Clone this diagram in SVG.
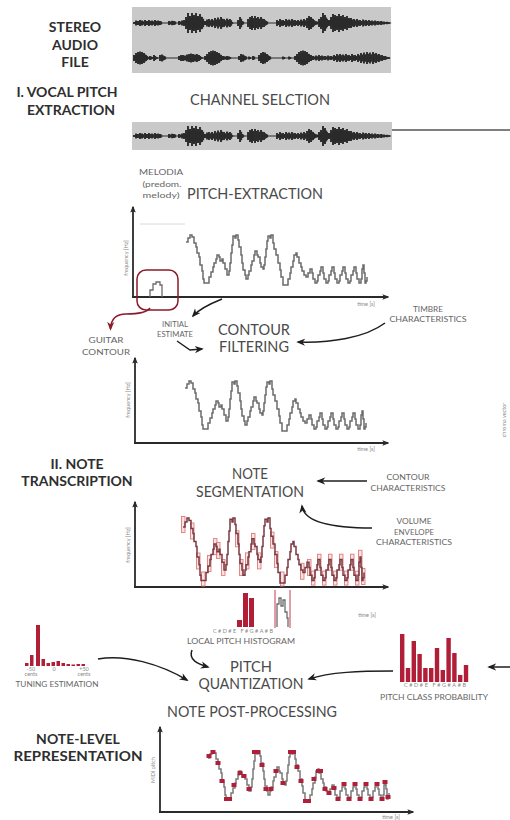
<svg xmlns="http://www.w3.org/2000/svg" xmlns:xlink="http://www.w3.org/1999/xlink" width="510" height="820" viewBox="0 0 510 820">
<style>
.hd{font-family:Lato,"Open Sans","DejaVu Sans",sans-serif;font-weight:700;font-size:14px;fill:#2e2e2e;text-anchor:middle}
.md{font-family:Lato,"Open Sans","DejaVu Sans",sans-serif;font-size:15px;fill:#4a4a4a;text-anchor:middle}
.sm{font-family:Lato,"Open Sans","DejaVu Sans",sans-serif;font-size:7px;fill:#666;text-anchor:middle}
.tn{font-family:Lato,"Open Sans","DejaVu Sans",sans-serif;font-size:5.5px;fill:#888;text-anchor:middle}
.ax{fill:none;stroke:#2a2a2a;stroke-width:1.8;marker-end:url(#axh)}
.cn{fill:none;stroke:#1e1e1e;stroke-width:1.5;marker-end:url(#ah)}
.wbox{fill:#c9c9c9}
.wave{fill:none;stroke:#2a2a2a;stroke-width:1.9}
.wl{fill:none;stroke:#2a2a2a;stroke-width:1.2}
.bar{fill:#b01e38}
.seg{fill:#f4c8c8;fill-opacity:.5;stroke:#e07b7b;stroke-width:.9}
.note{fill:#b01e38}
</style>
<defs>
<marker id="ah" viewBox="0 0 10 10" refX="8" refY="5" markerWidth="9" markerHeight="9" markerUnits="userSpaceOnUse" orient="auto"><path d="M0,1L10,5L0,9L3,5z" fill="#1e1e1e"/></marker>
<marker id="ahr" viewBox="0 0 10 10" refX="8" refY="5" markerWidth="9" markerHeight="9" markerUnits="userSpaceOnUse" orient="auto"><path d="M0,1L10,5L0,9L3,5z" fill="#8b1a2a"/></marker>
<marker id="axh" viewBox="0 0 10 10" refX="8" refY="5" markerWidth="7" markerHeight="7" markerUnits="userSpaceOnUse" orient="auto"><path d="M0,1L10,5L0,9L2,5z" fill="#2a2a2a"/></marker>
<path id="wA" d="M134-1v2M136-2.5v5M138-2v4M140-3v6M142-2.5v5M145-3v6M147-2v4M149-3v6M152-2.5v5M155-3v6M158-2.5v5M160-2v4M169-2v4M172-2.2v4.4M174-2v4M179-2v4M182-2.5v5M184-3v6M186-6v12M188-10v20M190-7v14M192-10v20M194-8v16M196-10v20M198-7v14M200-9v18M202-6v12M203-3v6M205-2v4M207-3.5v7M209-4v8M212-4v8M215-5v10M218-5.5v11M221-6v12M224-4v8M227-4.5v9M230-4v8M231-1.5v3M238-3v6M240-6v12M242-2v4M248-4v8M250-6v12M252-7v14M255-7v14M258-6v12M261-6v12M264-4v8M266-2v4M277-3v6M280-4v8M283-3v6M286-4v8M289-3.5v7M292-4v8M295-3v6M298-3v6M301-3.5v7M304-4v8M307-5v10M309-7v14M311-6v12M313-4v8M315-2v4M317-1.5v3M319-4v8M321-6v12M323-10v20M325-8v16M327-4v8M329-3v6M331-6v12M333-9v18M335-8v16M337-7v14M339-9v18M341-7v14M343-8v16M345-6v12M347-7v14M349-5v10M351-5v10M354-4v8M357-4v8M360-3v6M363-3.5v7M366-3v6M369-3v6M372-2.5v5M375-2.5v5M378-2v4M381-2v4M384-1.5v3M387-1.2v2.4M389-0.8v1.6"/>
<path id="wB" d="M134-3v6M136-5v10M138-6v12M140-6.5v13M142-6v12M144-5v10M146-3v6M148-1v2M150-2v4M152-1v2M154-3v6M156-1v2M160-3v6M162-3.5v7M164-2v4M179-2v4M181-3v6M183-3v6M185-2.5v5M187-3.5v7M189-4v8M191-4.5v9M193-4v8M195-3.5v7M197-4v8M199-3v6M201-1v2M205-2v4M207-4v8M209-6v12M211-7v14M213-7.5v15M215-7v14M217-6v12M219-5v10M221-3v6M223-2v4M225-1.5v3M227-2v4M229-1.5v3M239-2v4M241-4v8M243-3.5v7M245-2v4M249-1.5v3M253-2v4M259-3v6M261-5v10M263-6v12M265-5.5v11M267-4v8M269-2v4M283-1.5v3M289-1.5v3M295-2v4M297-4v8M299-6v12M301-7v14M303-7.5v15M305-7v14M307-6v12M309-4v8M311-3v6M313-2v4M316-2.5v5M319-3v6M322-2.5v5M325-2v4M328-2.5v5M331-2v4M334-3v6M337-4v8M340-4v8M343-3.5v7M346-4v8M349-3v6M352-4v8M355-3v6M358-4v8M361-5v10M364-5.5v11M367-6v12M370-5.5v11M373-6v12M376-5v10M379-4v8M382-3v6M385-2v4M388-1v2"/>
<path id="mel" fill="none" stroke-width="1.5" vector-effect="non-scaling-stroke" d="M0,7H2V3H4V0H6V2H8V8H10V12H11V18H13V22H14V30H16V36H17V44H18V48H22V48H23V42H25V37H27V32H28V28H30V24H31V20H33V22H34V26H36V24H37V28H39V34H41V40H43V36H44V28H45V18H46V10H47V1H49V3H50V0H52V5H53V12H55V20H56V28H57V35H59V40H60V44H62V40H63V36H65V30H66V26H68V20H69V16H71V20H72V22H74V28H75V32H77V34H78V30H79V22H80V14H81V6H82V1H84V3H85V0H87V8H88V14H90V20H92V28H94V35H95V42H97V50H101V50H102V44H104V38H105V32H107V26H108V20H110V18H111V22H113V28H115V32H116V36H118V40H120V42H122V38H124V34H126V38H127V44H129V48H131V46H132V40H134V36H135V32H137V38H138V44H140V48H142V46H143V40H145V36H146V32H148V38H149V44H151V48H153V46H154V40H156V36H157V32H159V38H160V44H162V48H164V46H165V40H167V36H168V32H170V38H171V44H173V48H175V44H176V34H177V30H178V38H179V48H180V46H181V42"/>
</defs>
<rect width="510" height="820" fill="#ffffff"/>

<g id="stereo-audio">
<text class="hd" x="75" y="32">STEREO</text>
<text class="hd" x="75" y="50">AUDIO</text>
<text class="hd" x="75" y="67">FILE</text>
<rect class="wbox" x="132" y="7" width="259" height="66"/>
<g transform="translate(0,23)"><use xlink:href="#wA" class="wave"/><use xlink:href="#wA" class="wave" transform="translate(1.2,0) scale(1,0.7)"/><path class="wl" d="M134,0H390"/></g>
<g transform="translate(0,58)"><use xlink:href="#wB" class="wave"/><use xlink:href="#wB" class="wave" transform="translate(1.2,0) scale(1,0.7)"/><path class="wl" d="M134,0H390"/></g>
</g>

<g id="section-1-title">
<text class="hd" x="67" y="97">I. VOCAL PITCH</text>
<text class="hd" x="71" y="115">EXTRACTION</text>
</g>

<g id="channel-selection">
<text class="md" x="260" y="105" font-size="13.5" textLength="140" lengthAdjust="spacingAndGlyphs">CHANNEL SELCTION</text>
<rect class="wbox" x="132" y="122" width="260" height="28"/>
<g transform="translate(0,136)"><use xlink:href="#wA" class="wave"/><use xlink:href="#wA" class="wave" transform="translate(1.2,0) scale(1,0.7)"/><path class="wl" d="M134,0H390"/></g>
</g>

<g id="pitch-extraction">
<text class="sm" x="161" y="175" font-size="8" textLength="44" lengthAdjust="spacingAndGlyphs">MELODIA</text>
<text class="sm" x="162" y="187" font-size="8.5" fill="#555" textLength="39" lengthAdjust="spacingAndGlyphs">(predom.</text>
<text class="sm" x="161" y="198" font-size="8.5" fill="#555" textLength="37" lengthAdjust="spacingAndGlyphs">melody)</text>
<text class="md" x="255" y="199" font-size="15.5" textLength="136" lengthAdjust="spacingAndGlyphs">PITCH-EXTRACTION</text>
<path d="M140,224H185" stroke="#d0d0d0" stroke-width="0.8"/>
<path class="ax" d="M133,298V207"/>
<path class="ax" d="M132,297H388"/>
<text class="tn" transform="translate(128,258) rotate(-90)">frequency [Hz]</text>
<text class="tn" x="366" y="306">time [s]</text>
<use xlink:href="#mel" x="186" y="235" stroke="#6b6b6b"/>
<rect x="137" y="270" width="41" height="40" rx="9" fill="none" stroke="#8b1a2a" stroke-width="1.5"/>
<path d="M150,297V290H153V284H156V282H160V285H162V297" fill="none" stroke="#6b6b6b" stroke-width="1.3"/>
</g>

<g id="guitar-contour">
<text class="sm" x="106" y="343" font-size="8" textLength="35" lengthAdjust="spacingAndGlyphs">GUITAR</text>
<text class="sm" x="106" y="355" font-size="8" textLength="48" lengthAdjust="spacingAndGlyphs">CONTOUR</text>
</g>

<g id="initial-estimate">
<text class="sm" x="175" y="327" font-size="6.5" textLength="26" lengthAdjust="spacingAndGlyphs">INITIAL</text>
<text class="sm" x="175" y="337" font-size="6.5" textLength="36" lengthAdjust="spacingAndGlyphs">ESTIMATE</text>
</g>

<g id="contour-filtering">
<text class="md" x="254" y="335" font-size="17" textLength="72" lengthAdjust="spacingAndGlyphs">CONTOUR</text>
<text class="md" x="254" y="352" font-size="17" textLength="70" lengthAdjust="spacingAndGlyphs">FILTERING</text>
</g>

<g id="timbre-characteristics">
<text class="sm" x="428" y="312" textLength="30" lengthAdjust="spacingAndGlyphs">TIMBRE</text>
<text class="sm" x="428" y="322" textLength="77" lengthAdjust="spacingAndGlyphs">CHARACTERISTICS</text>
</g>

<g id="filtered-contour">
<path class="ax" d="M135,444V358"/>
<path class="ax" d="M134,443H388"/>
<text class="tn" transform="translate(130,400) rotate(-90)">frequency [Hz]</text>
<text class="tn" x="366" y="451">time [s]</text>
<use xlink:href="#mel" x="185" y="381" stroke="#6b6b6b"/>
</g>

<g id="chroma-vector">
<text class="tn" font-size="8" fill="#aaa" transform="translate(506,420) rotate(-90)">chroma vector</text>
</g>

<g id="section-2-title">
<text class="hd" x="77" y="469">II. NOTE</text>
<text class="hd" x="77" y="486">TRANSCRIPTION</text>
</g>

<g id="note-segmentation">
<text class="md" x="250" y="479" textLength="36" lengthAdjust="spacingAndGlyphs">NOTE</text>
<text class="md" x="250" y="497" textLength="108" lengthAdjust="spacingAndGlyphs">SEGMENTATION</text>
</g>

<g id="contour-characteristics">
<text class="sm" x="408" y="480" textLength="43" lengthAdjust="spacingAndGlyphs">CONTOUR</text>
<text class="sm" x="408" y="491" textLength="75" lengthAdjust="spacingAndGlyphs">CHARACTERISTICS</text>
</g>

<g id="volume-envelope">
<text class="sm" x="414" y="524" textLength="35" lengthAdjust="spacingAndGlyphs">VOLUME</text>
<text class="sm" x="414" y="535" textLength="40" lengthAdjust="spacingAndGlyphs">ENVELOPE</text>
<text class="sm" x="414" y="545" textLength="76" lengthAdjust="spacingAndGlyphs">CHARACTERISTICS</text>
</g>

<g id="segmented-contour">
<path class="ax" d="M135,588V502"/>
<path class="ax" d="M134,587H388"/>
<text class="tn" transform="translate(130,545) rotate(-90)">frequency [Hz]</text>
<text class="tn" x="367" y="617">time [s]</text>
<g>
<rect class="seg" x="181.5" y="516.5" width="3.5" height="16"/>
<rect class="seg" x="190.5" y="523" width="3.5" height="16"/>
<rect class="seg" x="196.5" y="553" width="3.5" height="16"/>
<rect class="seg" x="201.5" y="572" width="3.5" height="14"/>
<rect class="seg" x="207.5" y="555.5" width="3.5" height="16"/>
<rect class="seg" x="213.5" y="538.6" width="3.5" height="16"/>
<rect class="seg" x="216.5" y="542.5" width="3.5" height="16"/>
<rect class="seg" x="221.5" y="559.4" width="3.5" height="16"/>
<rect class="seg" x="235.5" y="530.8" width="3.5" height="16"/>
<rect class="seg" x="239.5" y="559.4" width="3.5" height="16"/>
<rect class="seg" x="245.5" y="552.9" width="3.5" height="16"/>
<rect class="seg" x="251.5" y="533.4" width="3.5" height="16"/>
<rect class="seg" x="257.5" y="552.9" width="3.5" height="16"/>
<rect class="seg" x="270.5" y="532.1" width="3.5" height="16"/>
<rect class="seg" x="274.5" y="551.6" width="3.5" height="16"/>
<rect class="seg" x="280.5" y="572" width="3.5" height="14"/>
<rect class="seg" x="300.5" y="563.3" width="3.5" height="16"/>
<rect class="seg" x="307.5" y="559.4" width="3.5" height="16"/>
<rect class="seg" x="311.5" y="571.1" width="3.5" height="14"/>
<rect class="seg" x="317.5" y="554.2" width="3.5" height="16"/>
<rect class="seg" x="322.5" y="571.1" width="3.5" height="14"/>
<rect class="seg" x="328.5" y="554.2" width="3.5" height="16"/>
<rect class="seg" x="333.5" y="571.1" width="3.5" height="14"/>
<rect class="seg" x="339.5" y="554.2" width="3.5" height="16"/>
<rect class="seg" x="344.5" y="571.1" width="3.5" height="14"/>
<rect class="seg" x="350.5" y="554.2" width="3.5" height="16"/>
<rect class="seg" x="355.5" y="571.1" width="3.5" height="14"/>
<rect class="seg" x="358.5" y="550.3" width="3.5" height="16"/>
<rect class="seg" x="361.5" y="568.5" width="3.5" height="16"/>
</g>
<use xlink:href="#mel" transform="translate(183,518) scale(1,1.3)" stroke="#7a3a42"/>
</g>

<g id="local-pitch-histogram">
<rect class="bar" x="237" y="620" width="5" height="7"/>
<rect class="bar" x="243" y="593" width="5" height="34"/>
<rect class="bar" x="249" y="598" width="5" height="29"/>
<path d="M275,590V628M290,590V628" stroke="#c8394c" stroke-width="1"/>
<path d="M277,627V604H279V598H281V606H283V600H285V612H287V618H288V627" fill="none" stroke="#6b6b6b" stroke-width="1.3"/>
<text class="tn" x="243" y="633" font-size="4.5" textLength="60" lengthAdjust="spacing">C#D#E F#G#A#B</text>
<text class="sm" x="241" y="644" font-size="8" textLength="108" lengthAdjust="spacingAndGlyphs">LOCAL PITCH HISTOGRAM</text>
</g>

<g id="tuning-estimation">
<rect class="bar" x="25" y="663" width="3.5" height="3"/>
<rect class="bar" x="30" y="655" width="3.5" height="11"/>
<rect class="bar" x="36" y="625" width="4" height="41"/>
<rect class="bar" x="41.5" y="659" width="3.5" height="7"/>
<rect class="bar" x="46.5" y="663" width="3.5" height="3"/>
<rect class="bar" x="51.5" y="662" width="3.5" height="4"/>
<rect class="bar" x="56.5" y="661" width="3.5" height="5"/>
<rect class="bar" x="61.5" y="663" width="3.5" height="3"/>
<rect class="bar" x="66.5" y="664" width="3.5" height="2"/>
<rect class="bar" x="71.5" y="664.5" width="3.5" height="1.5"/>
<rect class="bar" x="76.5" y="664" width="3.5" height="2"/>
<rect class="bar" x="81.5" y="664" width="3.5" height="2"/>
<text class="tn" x="31" y="671" font-size="5">-50</text>
<text class="tn" x="31" y="676" font-size="5">cents</text>
<text class="tn" x="54" y="671" font-size="5">0</text>
<text class="tn" x="84" y="671" font-size="5">+50</text>
<text class="tn" x="84" y="676" font-size="5">cents</text>
<text class="sm" x="57" y="687" font-size="7.5" textLength="83" lengthAdjust="spacingAndGlyphs">TUNING ESTIMATION</text>
</g>

<g id="pitch-quantization">
<text class="md" x="251" y="672" textLength="42" lengthAdjust="spacingAndGlyphs">PITCH</text>
<text class="md" x="251" y="689" textLength="105" lengthAdjust="spacingAndGlyphs">QUANTIZATION</text>
</g>

<g id="pitch-class-probability">
<rect class="bar" x="400" y="634" width="4.4" height="48"/>
<rect class="bar" x="405.8" y="668" width="4.4" height="14"/>
<rect class="bar" x="411.6" y="641" width="4.4" height="41"/>
<rect class="bar" x="417.4" y="654" width="4.4" height="28"/>
<rect class="bar" x="423.2" y="668" width="4.4" height="14"/>
<rect class="bar" x="429" y="668" width="4.4" height="14"/>
<rect class="bar" x="434.8" y="648" width="4.4" height="34"/>
<rect class="bar" x="440.6" y="670" width="4.4" height="12"/>
<rect class="bar" x="446.4" y="638" width="4.4" height="44"/>
<rect class="bar" x="452.2" y="653" width="4.4" height="29"/>
<rect class="bar" x="458" y="675" width="4.4" height="7"/>
<rect class="bar" x="463.8" y="665" width="4.4" height="17"/>
<text class="tn" x="435" y="687" font-size="4.5" textLength="62" lengthAdjust="spacing">C#D#E F#G#A#B</text>
<text class="sm" x="434" y="700" font-size="7.5" textLength="108" lengthAdjust="spacingAndGlyphs">PITCH CLASS PROBABILITY</text>
</g>

<g id="note-post-processing">
<text class="md" x="252" y="717" textLength="170" lengthAdjust="spacingAndGlyphs">NOTE POST-PROCESSING</text>
</g>

<g id="note-level-representation">
<text class="hd" x="78" y="744" font-size="13.5">NOTE-LEVEL</text>
<text class="hd" x="78" y="761" font-size="13.5" textLength="129" lengthAdjust="spacingAndGlyphs">REPRESENTATION</text>
<path class="ax" d="M160,813V727"/>
<path class="ax" d="M159,812H413"/>
<text class="tn" transform="translate(155,770) rotate(-90)">MIDI pitch</text>
<text class="tn" x="391" y="819">time [s]</text>
<use xlink:href="#mel" x="208" y="751" stroke="#7a7a7a"/>
<g class="note">
<rect x="206.5" y="754" width="5" height="4"/>
<rect x="210.5" y="750" width="5" height="4"/>
<rect x="215.5" y="761" width="5" height="4"/>
<rect x="219.5" y="779" width="5" height="4"/>
<rect x="224" y="797" width="8" height="4"/>
<rect x="231.5" y="783" width="5" height="4"/>
<rect x="237.5" y="771" width="5" height="4"/>
<rect x="241.5" y="774" width="5" height="4"/>
<rect x="246.5" y="787" width="5" height="4"/>
<rect x="252" y="750" width="8" height="4"/>
<rect x="259.5" y="763" width="5" height="4"/>
<rect x="263.5" y="787" width="5" height="4"/>
<rect x="268.5" y="787" width="5" height="4"/>
<rect x="273.5" y="769" width="5" height="4"/>
<rect x="280.5" y="781" width="5" height="4"/>
<rect x="288" y="750" width="8" height="4"/>
<rect x="294.5" y="765" width="5" height="4"/>
<rect x="298.5" y="779" width="5" height="4"/>
<rect x="303" y="799" width="8" height="4"/>
<rect x="311.5" y="777" width="5" height="4"/>
<rect x="316" y="769" width="7" height="4"/>
<rect x="322.5" y="787" width="5" height="4"/>
<rect x="326.5" y="791" width="5" height="4"/>
<rect x="331.5" y="786" width="5" height="4"/>
<rect x="335.5" y="797" width="5" height="4"/>
<rect x="341.5" y="782" width="5" height="4"/>
<rect x="346.5" y="797" width="5" height="4"/>
<rect x="352.5" y="782" width="5" height="4"/>
<rect x="357.5" y="797" width="5" height="4"/>
<rect x="363.5" y="782" width="5" height="4"/>
<rect x="368.5" y="797" width="5" height="4"/>
<rect x="374.5" y="782" width="5" height="4"/>
<rect x="379.5" y="797" width="5" height="4"/>
<rect x="382.5" y="780" width="5" height="4"/>
<rect x="385.5" y="795" width="5" height="4"/>
</g>
</g>

<g id="connectors">
<path d="M392,130H510" stroke="#555" stroke-width="1.5" fill="none"/>
<path d="M150,308Q146,314 126,314Q111,314 110.5,329" fill="none" stroke="#8b1a2a" stroke-width="1.5" marker-end="url(#ahr)"/>
<path class="cn" d="M222,299C212,303 200,308 193,316"/>
<path class="cn" d="M177,341L190,350L202,349"/>
<path class="cn" d="M385,323C365,338 330,343 298,342"/>
<path class="cn" d="M367,481L318,481"/>
<path class="cn" d="M372,528C330,528 304,522 302,506"/>
<path class="cn" d="M192,650C188,660 198,664 208,667"/>
<path class="cn" d="M98,659C125,654 160,664 187,680"/>
<path class="cn" d="M393,671C360,671 330,672 309,679"/>
<path class="cn" d="M510,667L489,667"/>
</g>
</svg>
